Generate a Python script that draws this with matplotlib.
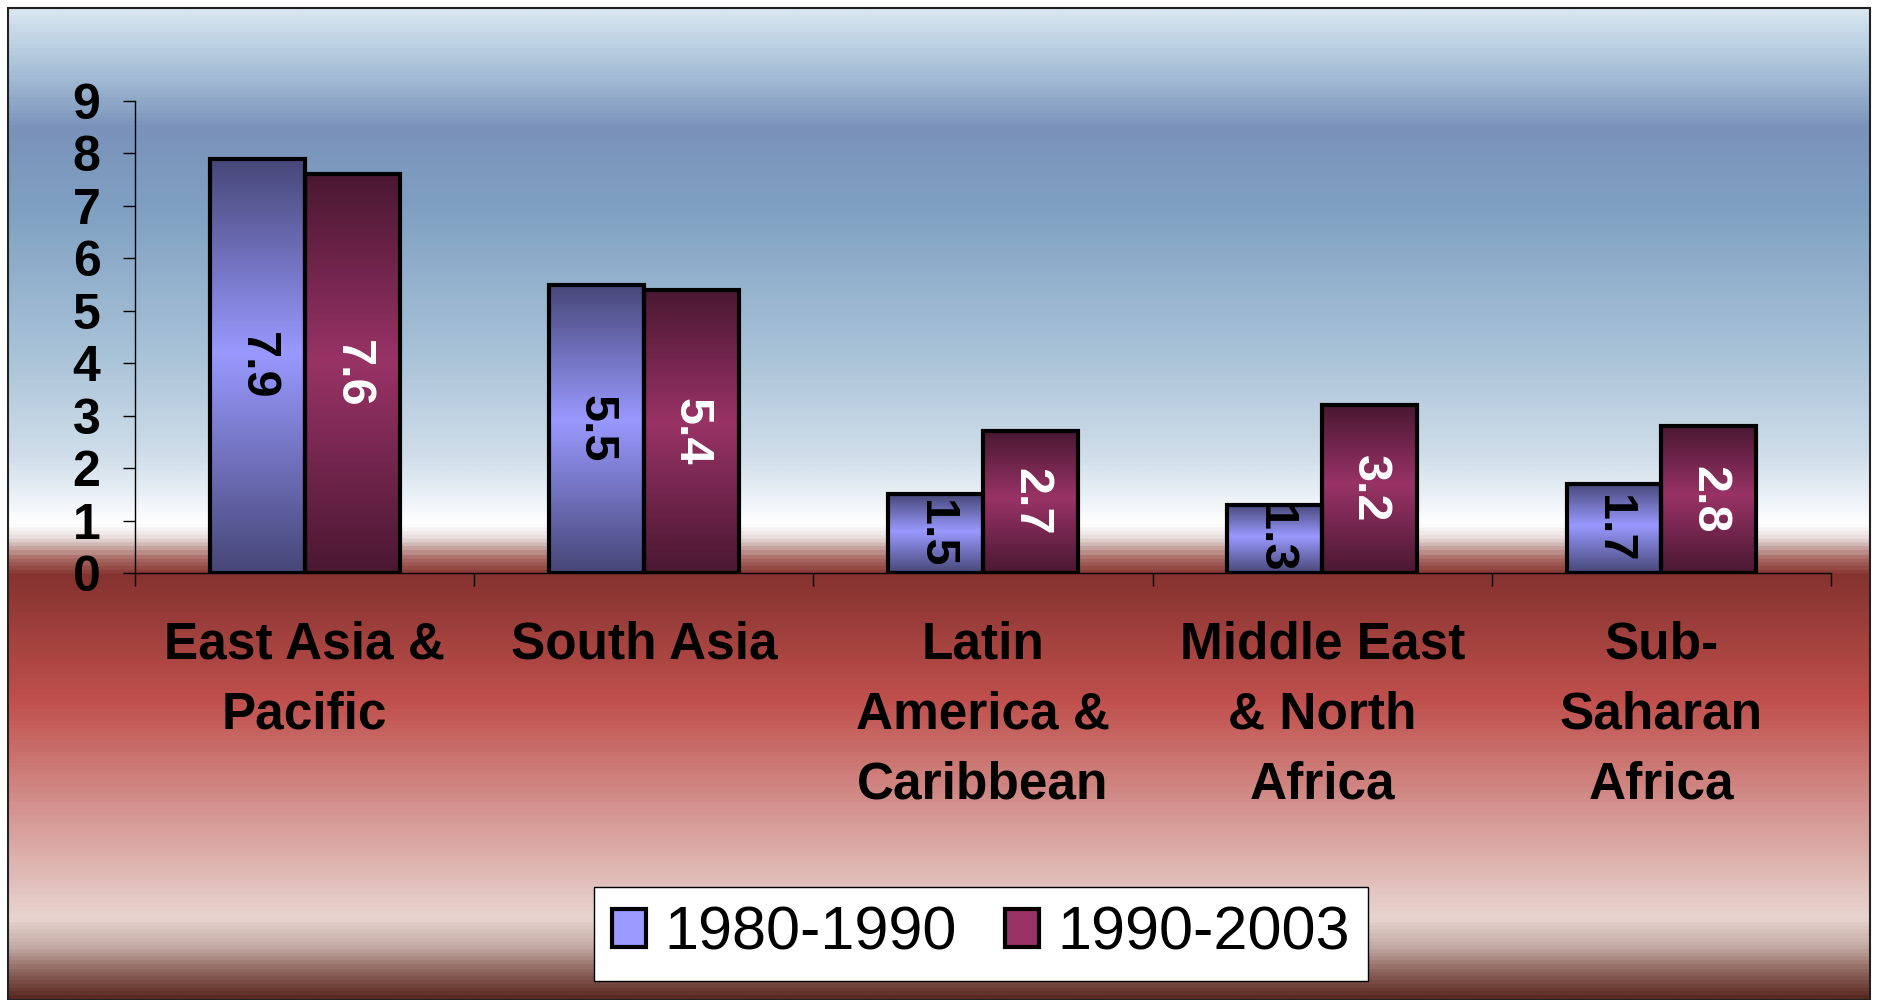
import numpy as np
import matplotlib
matplotlib.use("Agg")
import matplotlib.pyplot as plt
from matplotlib.colors import LinearSegmentedColormap
from matplotlib.patches import Rectangle

# --- data
regions = ["East Asia &\nPacific", "South Asia", "Latin\nAmerica &\nCaribbean",
           "Middle East\n& North\nAfrica", "Sub-\nSaharan\nAfrica"]
series = ["1980-1990", "1990-2003"]
vals_1980_1990 = [7.9, 5.5, 1.5, 1.3, 1.7]
vals_1990_2003 = [7.6, 5.4, 2.7, 3.2, 2.8]
yticks = list(range(10))

plt.rcParams['font.family'] = ['Liberation Sans', 'DejaVu Sans']

W, H = 1879, 1000
fig = plt.figure(figsize=(W / 100, H / 100), dpi=100)

# --- background gradient (blue sky above, red below), inside a thin frame
bg_stops = [(0.00, '#d8e6f0'), (0.05, '#b0c8dc'), (0.12, '#7a92ba'),
            (0.20, '#7fa0c2'), (0.35, '#a9c3d8'), (0.45, '#cfdde9'),
            (0.50, '#f0f5f9'), (0.52, '#ffffff'), (0.535, '#e6dcda'),
            (0.555, '#a86a64'), (0.572, '#85332f'), (0.70, '#c0504d'),
            (0.82, '#d69a96'), (0.92, '#e8d5d0'), (0.95, '#c0a8a0'),
            (0.975, '#8a6058'), (1.00, '#5a2a22')]
bg_cmap = LinearSegmentedColormap.from_list('bg', bg_stops)
bg = fig.add_axes([8 / W, 0, 1862 / W, 992 / H])
bg.imshow(np.linspace(0, 1, 800).reshape(-1, 1), cmap=bg_cmap, aspect='auto')
bg.axis('off')
fig.patches.append(Rectangle((8 / W, 0), 1862 / W, 992 / H, transform=fig.transFigure,
                             fill=False, edgecolor='#222222', lw=1.5, zorder=5))

# --- bars
ax = fig.add_axes([0.0719, 0.427, 0.9026, 0.472])
ax.patch.set_alpha(0)

x = np.arange(len(regions))
w = 0.28
blue_cmap = LinearSegmentedColormap.from_list('b', [(0, '#474778'), (0.47, '#9999ff'), (1, '#474778')])
red_cmap = LinearSegmentedColormap.from_list('r', [(0, '#4a1832'), (0.47, '#993366'), (1, '#4a1832')])

b1 = ax.bar(x - w / 2, vals_1980_1990, w, facecolor='none', edgecolor='black', lw=3, zorder=4)
b2 = ax.bar(x + w / 2, vals_1990_2003, w, facecolor='none', edgecolor='black', lw=3, zorder=4)

grad = np.linspace(0, 1, 200).reshape(-1, 1)
for bars, cmap, vals, tcol in ((b1, blue_cmap, vals_1980_1990, 'black'),
                               (b2, red_cmap, vals_1990_2003, 'white')):
    for p, v in zip(bars, vals):
        x0 = p.get_x()
        ax.imshow(grad, cmap=cmap, aspect='auto', zorder=2,
                  extent=(x0, x0 + p.get_width(), 0, p.get_height()))
        ax.text(x0 + p.get_width() / 2, p.get_height() / 2, f'{v}', rotation=270,
                ha='center', va='center', fontsize=35, fontweight='bold',
                color=tcol, zorder=3)

ax.set_xlim(-0.5, 4.5)
ax.set_ylim(0, 9)

for s in ('top', 'right'):
    ax.spines[s].set_visible(False)
for s in ('left', 'bottom'):
    ax.spines[s].set_linewidth(1)

ax.set_yticks(yticks)
ax.set_yticklabels([str(t) for t in yticks], fontsize=36, fontweight='bold')
ax.tick_params(axis='y', length=9, width=1, pad=16)

ax.set_xticks(np.arange(-0.5, 5, 1))
ax.set_xticklabels([])
ax.tick_params(axis='x', which='major', length=9, width=1)
ax.set_xticks(x, labels=regions, minor=True, fontsize=37, fontweight='bold', linespacing=1.55)
ax.tick_params(axis='x', which='minor', length=0, pad=34)

# --- legend
handles = [Rectangle((0, 0), 1, 1, facecolor='#9999ff', edgecolor='black', lw=3),
           Rectangle((0, 0), 1, 1, facecolor='#993366', edgecolor='black', lw=3)]
leg = fig.legend(handles, series, loc='center', bbox_to_anchor=(0.522, 0.066), ncol=2,
                 fontsize=44, frameon=True, fancybox=False, edgecolor='black', framealpha=1,
                 handlelength=0.55, handleheight=0.6, handletextpad=0.3,
                 columnspacing=0.8, borderpad=0.3)
leg.get_frame().set_linewidth(1)

fig.savefig('out.png', dpi=100)
